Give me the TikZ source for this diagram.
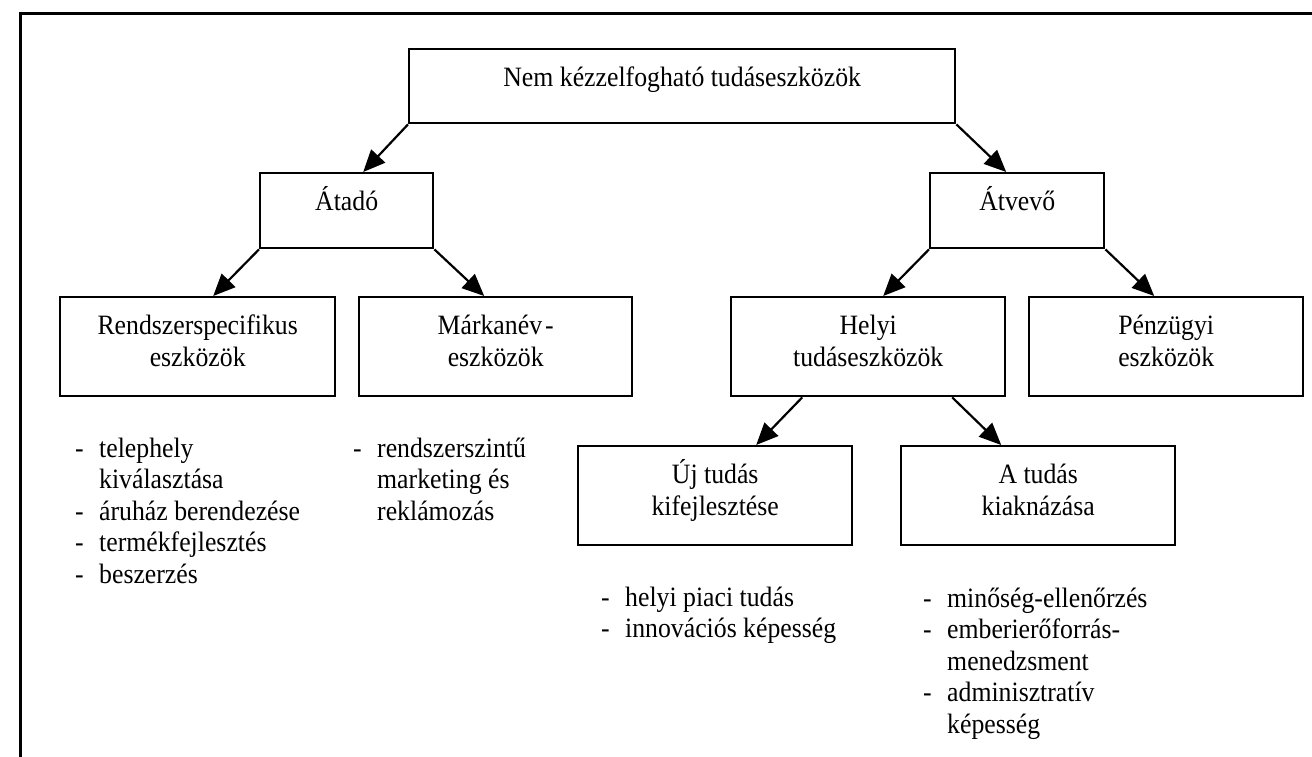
\documentclass[tikz,border=0pt]{standalone}
\usepackage{fontspec}
\setmainfont{Liberation Serif}[FakeStretch=0.92]
\usetikzlibrary{arrows.meta}
\newcommand{\bxt}[3]{\parbox[c][#2][t]{#1}{\centering\rule{0pt}{37pt}#3}}
\newcommand{\lit}[1]{\makebox[24pt][l]{-}#1}
\newcommand{\lic}[1]{\hspace*{24pt}#1}
\begin{document}
\begin{tikzpicture}[x=1pt,y=-1pt,
  font=\fontsize{28}{32.5}\selectfont,
  box/.style={draw, line width=2.4pt, inner sep=0pt, anchor=north west},
  arr/.style={line width=2.2pt, -{Triangle[length=22pt,width=19pt]}},
  lst/.style={inner sep=0pt, anchor=base west},
  frame/.style={line width=3pt}]
\useasboundingbox (0,0) rectangle (1312,757);
\draw[frame] (20,757) -- (20,14) -- (1312,14);

\node[box] (top) at (408,48) {\bxt{546pt}{74pt}{Nem kézzelfogható tudáseszközök}};
\node[box] (atado) at (259,172) {\bxt{173pt}{75pt}{Átadó}};
\node[box] (atvevo) at (929,172) {\bxt{174pt}{75pt}{Átvevő}};
\node[box] (rs) at (59,296) {\bxt{275pt}{99pt}{Rendszerspecifikus\\eszközök}};
\node[box] (mk) at (358,296) {\bxt{273pt}{99pt}{Márkanév\kern3pt-\\eszközök}};
\node[box] (hl) at (730,296) {\bxt{274pt}{99pt}{Helyi\\tudáseszközök}};
\node[box] (pz) at (1028,296) {\bxt{274pt}{99pt}{Pénzügyi\\eszközök}};
\node[box] (uj) at (577,445) {\bxt{274pt}{99pt}{Új tudás\\kifejlesztése}};
\node[box] (at) at (900,445) {\bxt{274pt}{99pt}{A tudás\\kiaknázása}};

\draw[arr] (top.south west) -- ([xshift=16.5pt]atado.north);
\draw[arr] (top.south east) -- ([xshift=-11pt]atvevo.north);
\draw[arr] (atado.south west) -- ([xshift=15.5pt]rs.north);
\draw[arr] (atado.south east) -- ([xshift=-11.5pt]mk.north);
\draw[arr] (atvevo.south west) -- ([xshift=15pt]hl.north);
\draw[arr] (atvevo.south east) -- ([xshift=-12pt]pz.north);
\draw[arr] ([xshift=-66pt]hl.south) -- ([xshift=41pt]uj.north);
\draw[arr] ([xshift=84pt]hl.south) -- ([xshift=-37pt]at.north);

\node[lst] (l1) at (75,457) {\parbox[t]{300pt}{\raggedright\fontsize{28}{31.5}\selectfont
  \lit{telephely}\\\lic{kiválasztása}\\\lit{áruház berendezése}\\\lit{termékfejlesztés}\\\lit{beszerzés}}};
\node[lst] (l2) at (353,457) {\parbox[t]{260pt}{\raggedright\fontsize{28}{31.5}\selectfont
  \lit{rendszerszintű}\\\lic{marketing és}\\\lic{reklámozás}}};
\node[lst] (l3) at (601,606) {\parbox[t]{300pt}{\raggedright\fontsize{28}{31.5}\selectfont
  \lit{helyi piaci tudás}\\\lit{innovációs képesség}}};
\node[lst] (l4) at (923,607) {\parbox[t]{300pt}{\raggedright\fontsize{28}{31.5}\selectfont
  \lit{minőség-ellenőrzés}\\\lit{emberierőforrás-}\\\lic{menedzsment}\\\lit{adminisztratív}\\\lic{képesség}}};
\end{tikzpicture}
\end{document}
